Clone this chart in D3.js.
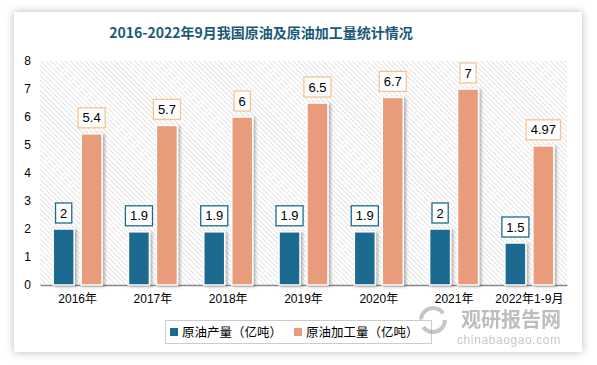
<html>
<head>
<meta charset="utf-8">
<style>
  body { margin: 0; background: #fff; }
  svg text { font-family: "Liberation Sans", "Noto Sans CJK SC", sans-serif; }
</style>
</head>
<body>
<script src="https://cdn.jsdelivr.net/npm/d3@7/dist/d3.min.js"></script>
<div id="chart"></div>
<script>
var categories = ["2016年", "2017年", "2018年", "2019年", "2020年", "2021年", "2022年1-9月"];
var seriesNames = ["原油产量（亿吨）", "原油加工量（亿吨）"];
var crudeOutput = [2, 1.9, 1.9, 1.9, 1.9, 2, 1.5];
var crudeProcessed = [5.4, 5.7, 6, 6.5, 6.7, 7, 4.97];
var yTicks = [0, 1, 2, 3, 4, 5, 6, 7, 8];
var colors = ["#1c6b8f", "#e89c7c"];
var boxStroke = ["#1c6b8f", "#f8c391"];

var W = 597, H = 365;
var margin = { top: 61, right: 30, bottom: 80, left: 40 },
    width = 567 - margin.left,
    height = 285 - margin.top;

var svgRoot = d3.select("#chart").append("svg")
    .attr("width", W).attr("height", H);

var defs = svgRoot.append("defs");
var cardShadow = defs.append("filter").attr("id", "cardShadow")
    .attr("x", "-10%").attr("y", "-10%").attr("width", "120%").attr("height", "120%");
cardShadow.append("feDropShadow").attr("dx", 0).attr("dy", 0)
    .attr("stdDeviation", 4).attr("flood-color", "#000").attr("flood-opacity", 0.28);
var barShadow = defs.append("filter").attr("id", "barShadow")
    .attr("x", "-30%").attr("y", "-10%").attr("width", "160%").attr("height", "130%");
barShadow.append("feDropShadow").attr("dx", 2).attr("dy", 1)
    .attr("stdDeviation", 1.5).attr("flood-color", "#000").attr("flood-opacity", 0.3);
var hatch = defs.append("pattern").attr("id", "hatch")
    .attr("patternUnits", "userSpaceOnUse").attr("width", 3.5).attr("height", 3.5)
    .attr("patternTransform", "rotate(-45)");
hatch.append("rect").attr("width", 3.5).attr("height", 3.5).attr("fill", "#fff");
hatch.append("line").attr("x1", 0).attr("y1", 0).attr("x2", 0).attr("y2", 3.5)
    .attr("stroke", "#d2d2d2").attr("stroke-width", 1.2);

// card
svgRoot.append("rect")
    .attr("x", 14).attr("y", 12).attr("width", 568).attr("height", 340)
    .attr("fill", "#fff").attr("filter", "url(#cardShadow)");

// title
svgRoot.append("text")
    .attr("x", 261).attr("y", 38)
    .attr("text-anchor", "middle")
    .style("font-family", "'Noto Sans CJK SC', sans-serif")
    .style("font-size", "14px").style("font-weight", "bold")
    .attr("fill", "#1a5a78")
    .text("2016-2022年9月我国原油及原油加工量统计情况");

var svg = svgRoot.append("g")
    .attr("transform", "translate(" + margin.left + "," + margin.top + ")");

// hatched plot background
svg.append("rect").attr("width", width).attr("height", height).attr("fill", "url(#hatch)");

var x0 = d3.scaleBand().domain(categories).range([0, width])
    .paddingInner(0.35).paddingOuter(0.175);
var x1 = d3.scaleBand().domain([0, 1]).range([0, x0.bandwidth()])
    .paddingInner(0.25).paddingOuter(0);
var y = d3.scaleLinear().domain([0, 8]).range([height, 0]);

// y axis
var yAxis = svg.append("g")
    .call(d3.axisLeft(y).tickValues(yTicks).tickSize(0).tickPadding(9));
yAxis.select(".domain").remove();
yAxis.selectAll("text").style("font-size", "12px").attr("fill", "#000");

// x axis
var xAxis = svg.append("g")
    .attr("transform", "translate(0," + height + ")")
    .call(d3.axisBottom(x0).tickSize(0).tickPadding(9));
xAxis.select(".domain").attr("stroke", "#888").attr("stroke-width", 1.5);
xAxis.selectAll("text").style("font-size", "12px").attr("fill", "#000");

var series = [crudeOutput, crudeProcessed];
series.forEach(function (vals, s) {
    var data = categories.map(function (c, i) { return { cat: c, v: vals[i] }; });

    svg.selectAll(".bar" + s)
        .data(data).enter().append("rect")
        .attr("x", function (d) { return x0(d.cat) + x1(s); })
        .attr("y", function (d) { return y(d.v); })
        .attr("width", x1.bandwidth())
        .attr("height", function (d) { return height - y(d.v); })
        .attr("fill", colors[s])
        .attr("stroke", "#fff").attr("stroke-width", 1.5)
        .attr("filter", "url(#barShadow)");

    var lab = svg.selectAll(".lab" + s)
        .data(data).enter().append("g")
        .attr("transform", function (d) {
            return "translate(" + (x0(d.cat) + x1(s) + x1.bandwidth() / 2) + "," + (y(d.v) - 16) + ")";
        });
    lab.each(function (d) {
        var g = d3.select(this);
        var t = g.append("text")
            .attr("text-anchor", "middle").attr("dy", "0.35em")
            .style("font-size", "13px").attr("fill", "#000")
            .text(d.v);
        var bw = t.node().getComputedTextLength() + 9;
        g.insert("rect", "text")
            .attr("x", -bw / 2).attr("y", -10)
            .attr("width", bw).attr("height", 20)
            .attr("fill", "#fff").attr("stroke", boxStroke[s]).attr("stroke-width", 1.3);
    });
});

// legend
var legend = svgRoot.append("g");
legend.append("rect")
    .attr("x", 165.5).attr("y", 320.5).attr("width", 266).attr("height", 23)
    .attr("fill", "#fff").attr("stroke", "#ccc");
var legX = [170, 294];
seriesNames.forEach(function (n, i) {
    legend.append("rect").attr("x", legX[i]).attr("y", 328)
        .attr("width", 8).attr("height", 8).attr("fill", colors[i]);
    legend.append("text").attr("x", legX[i] + 12).attr("y", 337)
        .style("font-family", "'Noto Sans CJK SC', sans-serif")
        .style("font-size", "12.5px").attr("fill", "#000").text(n);
});

// watermark
var wm = svgRoot.append("g").attr("opacity", 0.55);
wm.append("circle").attr("cx", 433).attr("cy", 320).attr("r", 12)
    .attr("fill", "none").attr("stroke", "#999").attr("stroke-width", 4)
    .attr("stroke-dasharray", "30 8");
wm.append("text").attr("x", 461).attr("y", 327)
    .style("font-family", "'Noto Sans CJK SC', sans-serif")
    .style("font-size", "20px").style("font-weight", "bold")
    .attr("fill", "#888").text("观研报告网");
wm.append("text").attr("x", 457).attr("y", 344)
    .style("font-size", "12px").attr("fill", "#999")
    .attr("letter-spacing", "0.6px")
    .text("chinabaogao.com");
</script>
</body>
</html>
